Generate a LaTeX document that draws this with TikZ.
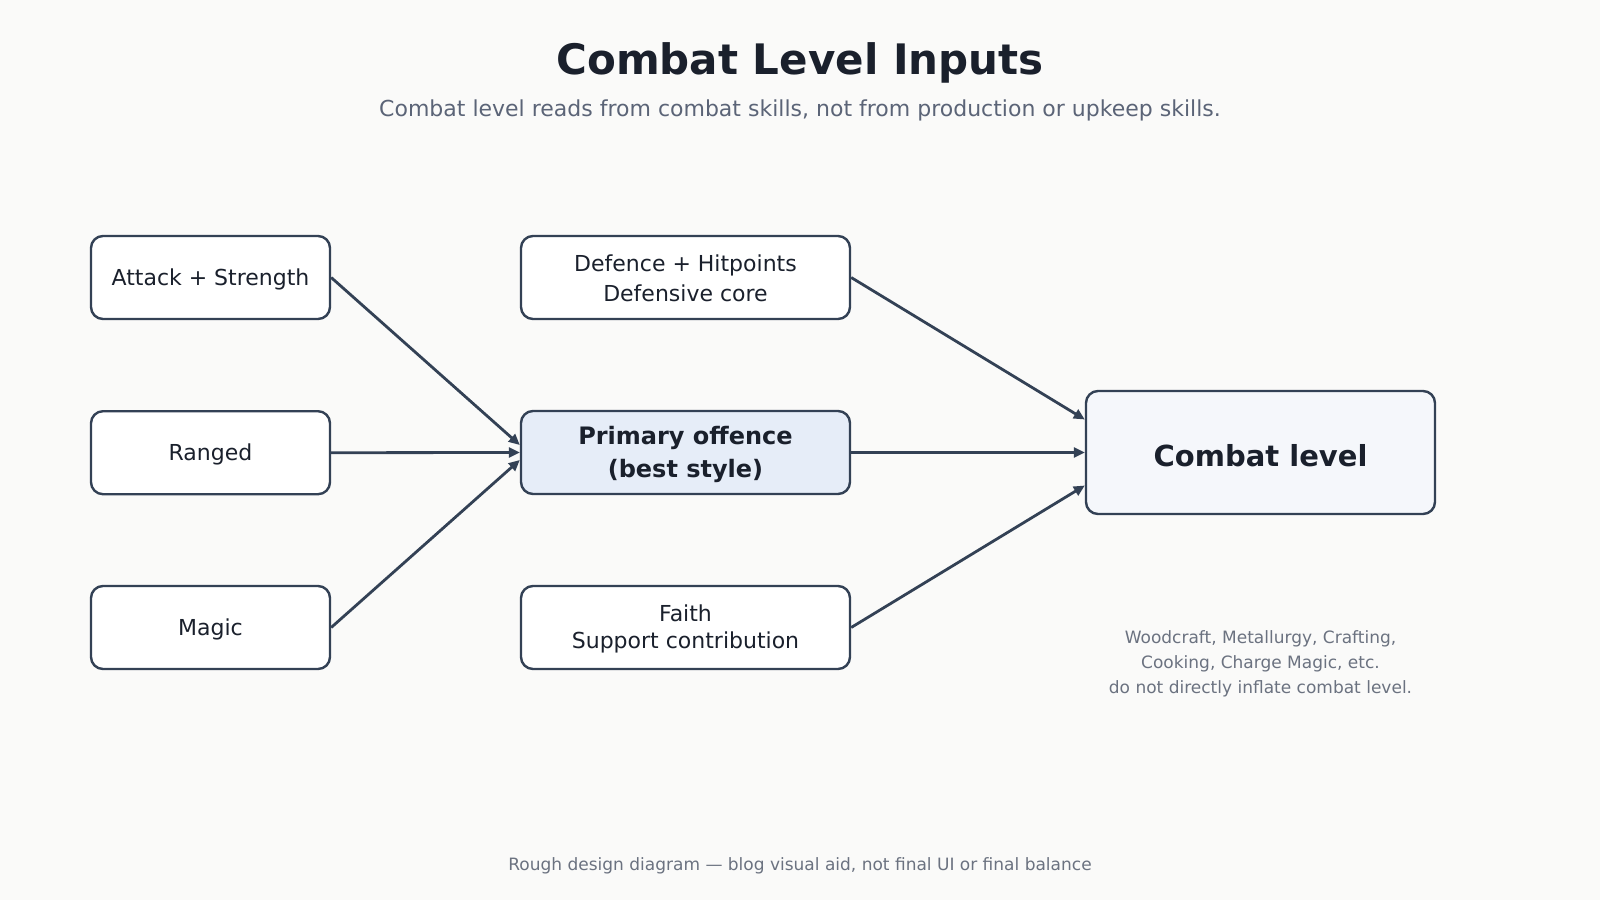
\documentclass[tikz,border=0pt]{standalone}
\usepackage{fontspec}
\setmainfont{DejaVu Sans}
\usetikzlibrary{arrows.meta}
\definecolor{bg}{HTML}{FAFAF9}
\definecolor{edge}{HTML}{334155}
\definecolor{ink}{HTML}{1A202C}
\definecolor{sub}{HTML}{5B6477}
\definecolor{note}{HTML}{6B7280}
\definecolor{prim}{HTML}{E6EDF8}
\definecolor{res}{HTML}{F5F7FB}
\begin{document}
\begin{tikzpicture}[x=1pt,y=-1pt,
 box/.style={draw=edge,line width=2.4pt,rounded corners=12pt,fill=white,text=ink,align=center,inner sep=0pt,text depth=0pt},
 lbox/.style={box,minimum width=239pt,minimum height=83pt,text height=15pt},
 mbox/.style={box,minimum width=329pt,minimum height=83pt},
 arr/.style={draw=edge,line width=2.8pt,-{Triangle[length=11pt,width=10pt]}},
 txt/.style={inner sep=0pt,anchor=base,align=center}]
\fill[bg] (0,0) rectangle (1600,900);
\useasboundingbox (0,0) rectangle (1600,900);

\node[txt,text=ink,font=\fontsize{42}{50}\bfseries\selectfont] (title) at (800,74.5) {Combat Level Inputs};
\node[txt,text=sub,font=\fontsize{22}{26}\selectfont] (subtitle) at (800,116) {Combat level reads from combat skills, not from production or upkeep skills.};

\node[lbox,font=\fontsize{22}{31}\selectfont] (atk) at (210.5,277.5) {Attack + Strength};
\node[lbox,font=\fontsize{22}{31}\selectfont] (rng) at (210.5,452.7) {Ranged};
\node[lbox,font=\fontsize{22}{31}\selectfont] (mag) at (210.5,627.5) {Magic};

\node[mbox,text height=48.5pt,font=\fontsize{22}{30.5}\selectfont] (def) at (685.5,277.5) {Defence + Hitpoints\\Defensive core};
\node[mbox,text height=49.5pt,fill=prim,font=\fontsize{24}{32.5}\bfseries\selectfont] (prim) at (685.5,452.5) {Primary offence\\(best style)};
\node[mbox,text height=41pt,font=\fontsize{22}{26.5}\selectfont] (fai) at (685.5,627.5) {Faith\\Support contribution};

\node[box,fill=res,minimum width=349pt,minimum height=123pt,text height=27pt,font=\fontsize{29}{34}\bfseries\selectfont] (cl) at (1260.5,452.5) {Combat level};

\draw[arr] (atk.east) -- ([yshift=7.5pt]prim.west);
\draw[arr] (rng.east) -- (prim.west);
\draw[arr] (mag.east) -- ([yshift=-7.5pt]prim.west);

\draw[arr] (def.east) -- ([yshift=33pt]cl.west);
\draw[arr] (prim.east) -- (cl.west);
\draw[arr] (fai.east) -- ([yshift=-33pt]cl.west);

\node[txt,text=note,font=\fontsize{17}{25}\selectfont,anchor=north] (note) at (1260.5,630.5) {Woodcraft, Metallurgy, Crafting,\\Cooking, Charge Magic, etc.\\do not directly inflate combat level.};

\node[txt,text=note,font=\fontsize{17}{20}\selectfont] (foot) at (800,870) {Rough design diagram — blog visual aid, not final UI or final balance};
\end{tikzpicture}
\end{document}
